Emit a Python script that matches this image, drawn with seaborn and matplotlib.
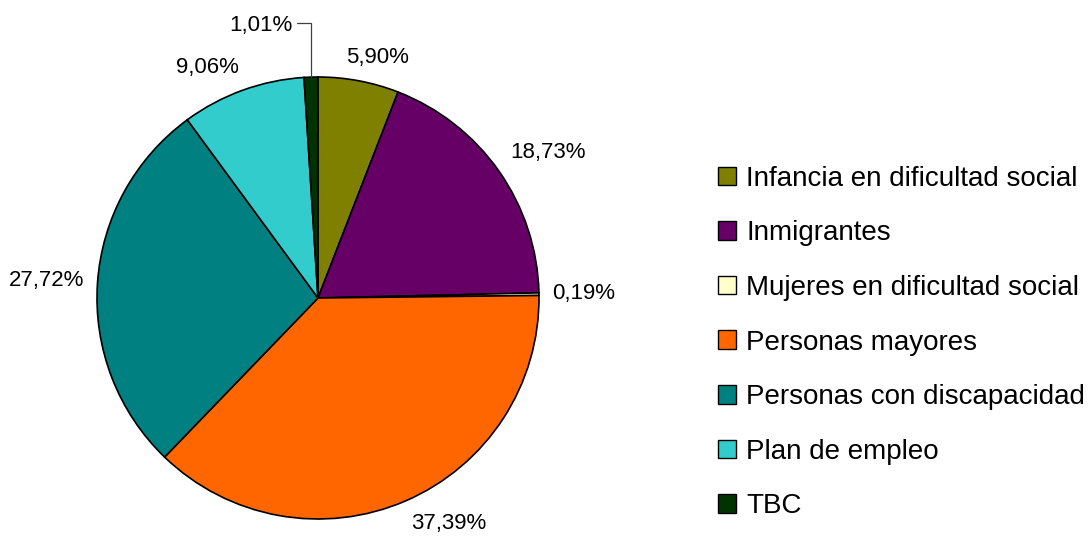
import matplotlib
matplotlib.use("Agg")
import matplotlib.pyplot as plt
import seaborn as sns
import numpy as np

categories = ["Infancia en dificultad social", "Inmigrantes", "Mujeres en dificultad social",
              "Personas mayores", "Personas con discapacidad", "Plan de empleo", "TBC"]
values = [5.90, 18.73, 0.19, 37.39, 27.72, 9.06, 1.01]
labels = ["5,90%", "18,73%", "0,19%", "37,39%", "27,72%", "9,06%", "1,01%"]
colors = ["#808000", "#660066", "#FFFFCC", "#FF6600", "#008080", "#33CCCC", "#003300"]

sns.set_theme(style="white")
plt.rcParams['font.family'] = ['Liberation Sans', 'DejaVu Sans']
plt.rcParams['text.color'] = 'black'

W, H = 1092, 540
fig = plt.figure(figsize=(W / 100, H / 100), dpi=100)
cx, cy, R = 318, 298, 221
ax = fig.add_axes([(cx - R) / W, (H - cy - R) / H, 2 * R / W, 2 * R / H])

palette = sns.color_palette(colors)
wedges, _ = ax.pie(values, colors=palette, startangle=90, counterclock=False, radius=1,
                   wedgeprops=dict(edgecolor="black", linewidth=1.2))
ax.set_xlim(-1, 1)
ax.set_ylim(-1, 1)
ax.set_aspect("auto")
ax.axis("off")

fig.canvas.draw()
renderer = fig.canvas.get_renderer()
leader_idx = len(values) - 1
for i, (w, lab) in enumerate(zip(wedges, labels)):
    ang = np.deg2rad((w.theta1 + w.theta2) / 2)
    c, s = np.cos(ang), np.sin(ang)
    if i == leader_idx:
        ytop = 1.243
        ax.plot([c, c, -0.095], [s, ytop, ytop], color="#404040", lw=0.9,
                clip_on=False, solid_joinstyle="miter")
        ax.text(-0.117, ytop - 0.01, lab, ha="right", va="center", fontsize=16, color="black")
        continue
    ax_pt = (1.06 * c, 1.06 * s)
    t = ax.text(*ax_pt, lab, ha="center", va="center", fontsize=16, color="black")
    bb = t.get_window_extent(renderer)
    fx = float(np.clip(c / 0.35, -1, 1))
    fy = float(np.clip(s / 0.35, -1, 1))
    t.remove()
    ax.annotate(lab, xy=ax_pt, xytext=(fx * bb.width / 2, fy * bb.height / 2),
                textcoords="offset pixels", ha="center", va="center", fontsize=16,
                color="black", annotation_clip=False)

leg = fig.legend(wedges, categories, loc="center left",
                 bbox_to_anchor=(718 / W, 1 - 342.5 / H), frameon=False,
                 fontsize=20, handlelength=0.65, handleheight=0.65,
                 handletextpad=0.36, labelspacing=1.03, borderpad=0, borderaxespad=0,
                 labelcolor="black")
for h in leg.legend_handles:
    h.set_edgecolor("black")
    h.set_linewidth(1.0)

fig.savefig("out.png", dpi=100, facecolor="white")
